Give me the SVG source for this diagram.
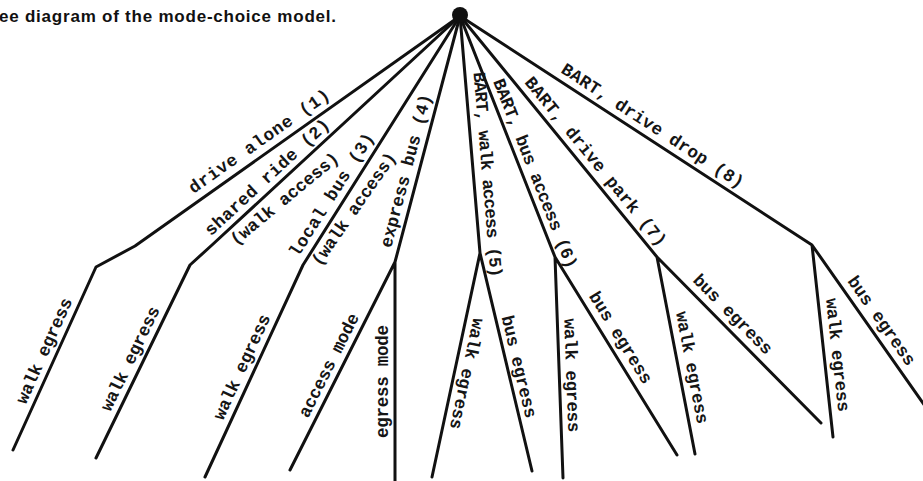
<svg xmlns="http://www.w3.org/2000/svg" width="923" height="481" viewBox="0 0 923 481">
<style>
.edge{fill:none;stroke:#111;stroke-width:3;stroke-linecap:round;stroke-linejoin:round}
.lbl{font-family:"Liberation Mono","DejaVu Sans Mono",monospace;font-size:17.5px;font-weight:bold;fill:#151515}
.title{font-family:"Liberation Sans",Arial,sans-serif;font-size:17px;font-weight:bold;fill:#111}
</style>
<rect width="923" height="481" fill="#fff"/>
<g id="title"><text class="title" x="-1" y="22" textLength="337">ee diagram of the mode-choice model.</text></g>
<g id="connectors">
<path class="edge" d="M460,16 L135,246 L96,267 L13,450"/>
<path class="edge" d="M460,16 L212,245 L190,265 L96,458"/>
<path class="edge" d="M460,16 L303,265 L205,477"/>
<path class="edge" d="M460,16 L395,262 L290,470 M395,262 L395,481"/>
<path class="edge" d="M460,16 L480,253 L432,477 M480,253 L532,471"/>
<path class="edge" d="M460,16 L555,257 L563,478 M555,257 L677,455"/>
<path class="edge" d="M460,16 L657,257 L695,454 M657,257 L821,423"/>
<path class="edge" d="M460,16 L812,245 L833,437 M812,245 L925,406"/>
</g>
<g id="root"><circle cx="460" cy="15" r="8" fill="#111"/></g>
<g id="labels">
<text class="lbl" transform="translate(193.5,194) rotate(-35.06)" textLength="168">drive alone (1)</text>
<text class="lbl" transform="translate(211,236.5) rotate(-42.7)" textLength="163">shared ride (2)</text>
<text class="lbl" transform="translate(236,246) rotate(-39.5)" textLength="135">(walk access)</text>
<text class="lbl" transform="translate(298,258) rotate(-57.6)" textLength="143">local bus (3)</text>
<text class="lbl" transform="translate(320,267) rotate(-55)" textLength="134">(walk access)</text>
<text class="lbl" transform="translate(391,248.5) rotate(-75.2)" textLength="158">express bus (4)</text>
<text class="lbl" transform="translate(473.5,72.5) rotate(85.2)" textLength="206">BART, walk access (5)</text>
<text class="lbl" transform="translate(493,81.5) rotate(68.5)" textLength="202">BART, bus access (6)</text>
<text class="lbl" transform="translate(524,82.5) rotate(50.74)" textLength="213">BART, drive park (7)</text>
<text class="lbl" transform="translate(560,72) rotate(33.05)" textLength="214">BART, drive drop (8)</text>
<text class="lbl" transform="translate(25.8,404.9) rotate(-65.74)" textLength="114">walk egress</text>
<text class="lbl" transform="translate(110.3,412.3) rotate(-64.04)" textLength="114">walk egress</text>
<text class="lbl" transform="translate(222.9,420.9) rotate(-65.2)" textLength="114">walk egress</text>
<text class="lbl" transform="translate(308,418.7) rotate(-63.2)" textLength="114">access mode</text>
<text class="lbl" transform="translate(388,438) rotate(-90)" textLength="113">egress mode</text>
<text class="lbl" transform="translate(473.4,317.5) rotate(102.1)" textLength="113">walk egress</text>
<text class="lbl" transform="translate(501.5,316.9) rotate(76.59)" textLength="105">bus egress</text>
<text class="lbl" transform="translate(564.2,318.7) rotate(87.93)" textLength="114">walk egress</text>
<text class="lbl" transform="translate(588.4,295.9) rotate(58.36)" textLength="105">bus egress</text>
<text class="lbl" transform="translate(675.9,312.7) rotate(79.08)" textLength="114">walk egress</text>
<text class="lbl" transform="translate(692,280.9) rotate(45.35)" textLength="105">bus egress</text>
<text class="lbl" transform="translate(826,299) rotate(83.76)" textLength="114">walk egress</text>
<text class="lbl" transform="translate(847,281) rotate(54.91)" textLength="105">bus egress</text>
</g>
</svg>
